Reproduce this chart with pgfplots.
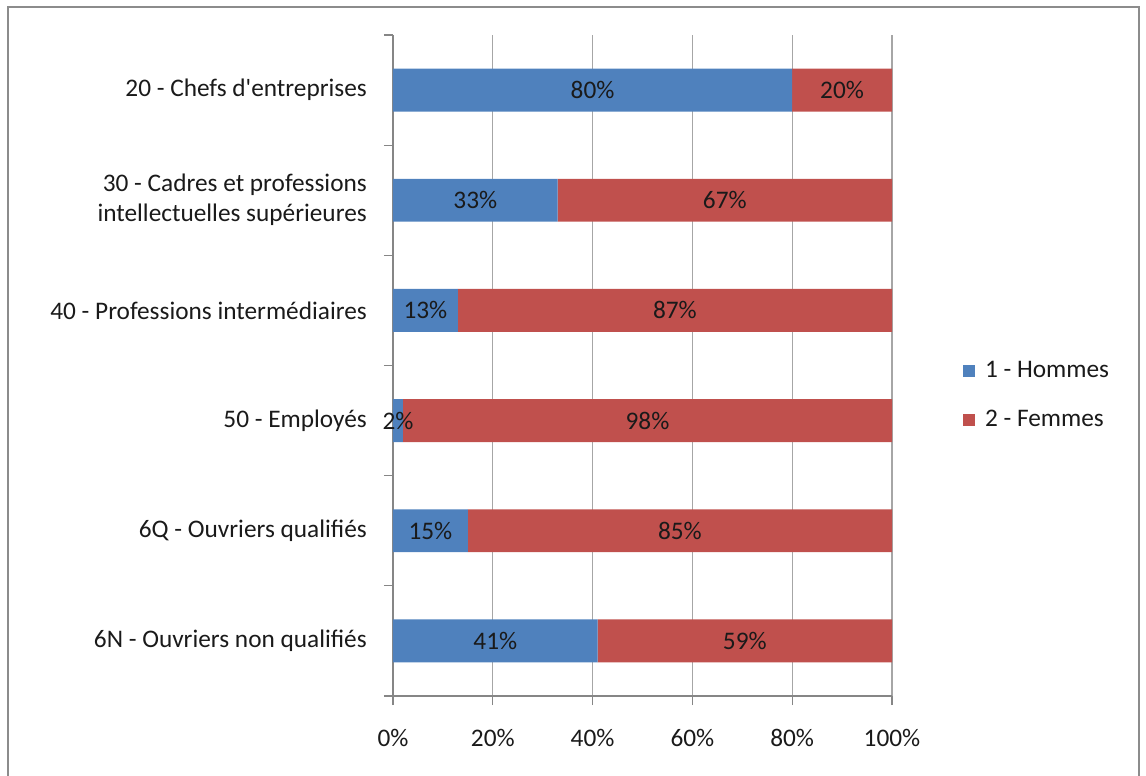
\documentclass[border=0pt]{standalone}
\usepackage{pgfplots}
\pgfplotsset{compat=1.18}
\usepackage{pgfplotstable}
\usepackage{fontspec}
\setmainfont{Carlito}

\definecolor{hom}{HTML}{4F81BD}
\definecolor{fem}{HTML}{C0504D}
\definecolor{gridc}{HTML}{A6A6A6}
\definecolor{axisc}{HTML}{868686}
\definecolor{framec}{HTML}{8C8C8C}
\definecolor{txt}{HTML}{1A1A1A}

% share of men / women per socio-professional category (percent)
\pgfplotstableread{
y hom fem
6 80 20
5 33 67
4 13 87
3 2 98
2 15 85
1 41 59
}\parts

\begin{document}
\begin{tikzpicture}[x=1pt,y=1pt]
\fontsize{25.3}{30}\selectfont
\useasboundingbox (0,0) rectangle (1146,776);
\draw[framec, line width=2.5pt] (8,-10) -- (8,769) -- (1139,769) -- (1139,-10);
\begin{axis}[
  at={(393pt,80pt)}, anchor=south west,
  scale only axis, width=499pt, height=661pt,
  xbar stacked, bar width=0.39,
  xmin=0, xmax=100, ymin=0.5, ymax=6.5,
  clip=false,
  axis lines=left,
  axis line style={draw=axisc, line width=1.2pt, -},
  xmajorgrids, major grid style={draw=gridc, line width=1.2pt},
  tick align=outside, major tick length=9pt,
  tick style={draw=axisc, line width=1.2pt},
  xtick={0,20,40,60,80,100},
  xticklabels={0\%,20\%,40\%,60\%,80\%,100\%},
  xticklabel style={inner sep=0pt, yshift=-24pt, text=txt},
  ytick={0.5,1.5,...,6.5},
  yticklabels={},
  extra y ticks={1,2,3,4,5,6},
  extra y tick labels={6N - Ouvriers non qualifiés,6Q - Ouvriers qualifiés,50 - Employés,40 - Professions intermédiaires,{30 - Cadres et professions\\intellectuelles supérieures},20 - Chefs d\textquotesingle entreprises},
  extra y tick style={tick style={draw=none}, grid=none},
  yticklabel style={inner sep=0pt, xshift=-17pt, align=right, text=txt},
  nodes near coords={\pgfplotspointmeta\%},
  every node near coord/.append style={anchor=center, text=txt},
  legend style={at={(1.136,0.4544)}, anchor=west, draw=none, fill=none,
    row sep=25pt, column sep=8pt, text=txt},
  legend cell align=left,
  legend image code/.code={\fill[#1] (0pt,-6pt) rectangle (12pt,6pt);},
]
\addplot[fill=hom, draw=none, point meta=explicit symbolic]
  table[x=hom, y=y, meta=hom] {\parts};
\addlegendentry{1 - Hommes}
\addplot[fill=fem, draw=none, point meta=explicit symbolic]
  table[x=fem, y=y, meta=fem] {\parts};
\addlegendentry{2 - Femmes}
\end{axis}
\end{tikzpicture}
\end{document}
